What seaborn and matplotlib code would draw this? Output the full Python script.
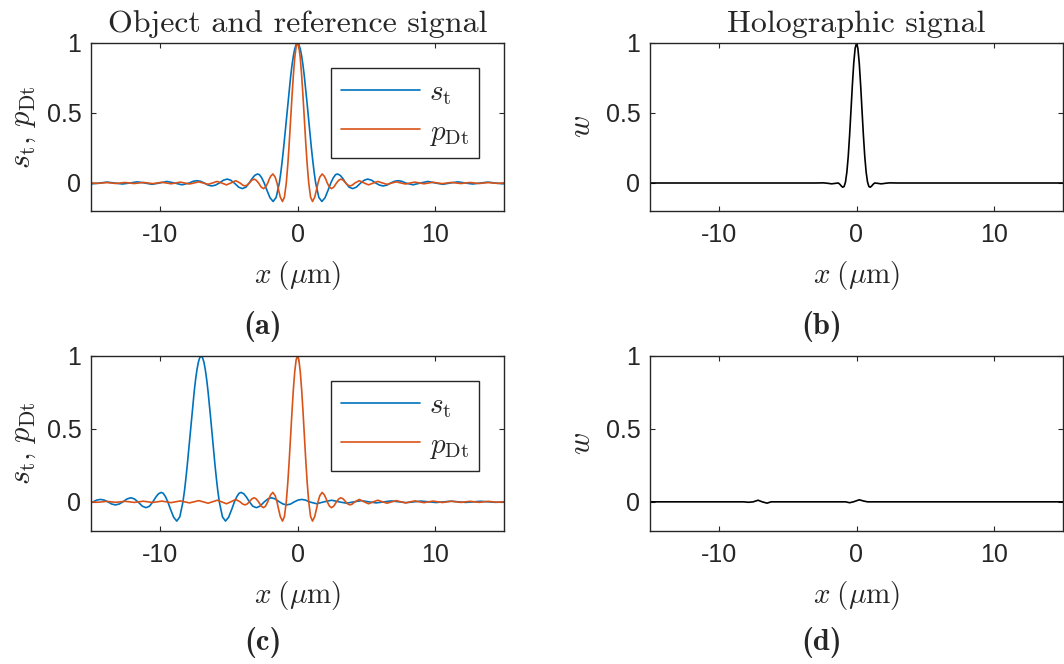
import numpy as np
import matplotlib
matplotlib.use("Agg")
import matplotlib.pyplot as plt
import seaborn as sns

# signal profiles (offset from peak in um, value); curves are symmetric
s_offset = [0, 0.1, 0.2, 0.3, 0.4, 0.5, 0.6, 0.7, 0.8, 0.9, 1.0, 1.1, 1.2, 1.32,
            1.55, 1.77, 2.0, 2.24, 2.42, 2.6, 2.76, 2.9, 3.1, 3.28, 3.51,
            3.75, 4.01, 4.27, 4.59, 4.85, 5.1, 5.38, 5.68, 5.95, 6.22, 6.5, 6.77,
            7.04, 7.31, 7.58, 7.85, 8.39, 8.93, 9.48, 10.02, 10.56, 11.1, 11.64, 12.18,
            12.72, 13.27, 13.81, 14.35, 14.89, 15.43, 15.97, 16.52, 17.06, 17.6,
            18.14, 18.68, 19.22, 19.76, 20.31, 20.85, 21.39, 21.93, 22.47]
s_value = [1.0, 0.989, 0.958, 0.908, 0.841, 0.759, 0.666, 0.566, 0.462, 0.359, 0.259, 0.167, 0.083, 0.0,
           -0.103, -0.132, -0.105, -0.047, 0.0, 0.037, 0.059, 0.0645, 0.055, 0.034, 0.0,
           -0.030, -0.040, -0.030, 0.0, 0.020, 0.028, 0.020, 0.0, -0.015, -0.021, -0.015, 0.0,
           0.012, 0.0165, 0.012, 0.0, -0.013, 0.0, 0.011, 0.0, -0.0094, 0.0, 0.0082, 0.0,
           -0.0072, 0.0, 0.0063, 0.0, -0.0056, 0.0, 0.005, 0.0, -0.0046, 0.0,
           0.0042, 0.0, -0.0039, 0.0, 0.0036, 0.0, -0.0034, 0.0, 0.0032]

p_offset = [0, 0.1, 0.2, 0.3, 0.4, 0.5, 0.6, 0.7, 0.815, 0.95, 1.09, 1.25, 1.38, 1.49,
            1.62, 1.79, 1.95, 2.08, 2.16, 2.32, 2.47, 2.63, 2.83, 3.0, 3.15, 3.32, 3.5,
            3.66, 3.82, 3.98, 4.17, 4.49, 4.84, 5.16, 5.51, 5.83, 6.18, 6.5, 6.85,
            7.18, 7.52, 7.85, 8.19, 8.52, 8.86, 9.19, 9.52, 9.86, 10.19, 10.53, 10.86,
            11.2, 11.53, 11.87, 12.19, 12.54, 12.86, 13.2, 13.53, 13.88, 14.19, 14.55, 14.87, 15.2]
p_value = [1.0, 0.973, 0.894, 0.771, 0.619, 0.452, 0.286, 0.137, 0.0, -0.101, -0.132, -0.101, -0.048, 0.0,
           0.042, 0.0645, 0.048, 0.0215, 0.0, -0.029, -0.040, -0.030, 0.0, 0.020, 0.028, 0.020, 0.0,
           -0.015, -0.021, -0.015, 0.0, 0.0165, 0.0, -0.0133, 0.0, 0.0111, 0.0, -0.0094, 0.0,
           0.0082, 0.0, -0.0072, 0.0, 0.0063, 0.0, -0.0056, 0.0, 0.005, 0.0, -0.0046, 0.0,
           0.0042, 0.0, -0.0039, 0.0, 0.0036, 0.0, -0.0034, 0.0, 0.0032, 0.0, -0.003, 0.0, 0.0028]

# holographic signal, panel (b) (symmetric) and panel (d)
w_b_offset = [0, 0.1, 0.2, 0.3, 0.4, 0.5, 0.6, 0.7, 0.8, 0.9, 1.0, 1.1, 1.2, 1.32,
              1.5, 1.8, 2.1, 2.4, 3.0, 15.2]
w_b_value = [1.0, 0.962, 0.856, 0.700, 0.520, 0.343, 0.190, 0.078, 0.007, -0.025, -0.030, -0.022, -0.010, 0.0,
             -0.002, -0.006, -0.002, 0.001, 0.0, 0.0]
w_d_x = [-15, -8.2, -7.85, -7.5, -7.15, -6.85, -6.5, -6.2, -1.1, -0.8, -0.5, -0.22, 0.2, 0.5, 0.8, 15]
w_d_y = [0, 0, -0.003, 0, 0.011, 0, -0.009, 0, 0, 0, -0.006, 0, 0.014, 0.006, 0, 0]

s_center = [0, -7]   # object position in (a) and (c)
x_ticks = [-10, 0, 10]
x_tick_labels = ['-10', '0', '10']
y_ticks = [0, 0.5, 1]
y_tick_labels = ['0', '0.5', '1']
panel_tags = ['(a)', '(b)', '(c)', '(d)']

BLUE = '#0072BD'
ORANGE = '#D95319'
DARK = '#262626'


def mirror(offsets, values, center=0.0):
    off = np.asarray(offsets, dtype=float)
    val = np.asarray(values, dtype=float)
    x = np.concatenate([-off[:0:-1], off]) + center
    y = np.concatenate([val[:0:-1], val])
    return x, y


sns.set_style("ticks", {"xtick.direction": "in", "ytick.direction": "in",
                        "axes.edgecolor": DARK})
plt.rcParams['font.family'] = ['Liberation Sans', 'DejaVu Sans']
plt.rcParams['mathtext.fontset'] = 'cm'
plt.rcParams['axes.unicode_minus'] = False

fig = plt.figure(figsize=(10.64, 6.64), dpi=100)
W, H = 1064, 664
# axes boxes in pixels: left, top, right, bottom
boxes = [(91, 43, 504, 211), (650, 43, 1063, 211),
         (91, 356, 504, 531), (650, 356, 1063, 531)]
axes = []
for l, t, r, b in boxes:
    axes.append(fig.add_axes([l / W, 1 - b / H, (r - l) / W, (b - t) / H]))
ax_a, ax_b, ax_c, ax_d = axes

lw = 1.2
for ax, c in [(ax_a, s_center[0]), (ax_c, s_center[1])]:
    sx, sy = mirror(s_offset, s_value, c)
    px, py = mirror(p_offset, p_value, 0)
    sns.lineplot(x=sx, y=sy, ax=ax, color=BLUE, linewidth=lw, sort=False,
                 estimator=None, label=r'$s_{\rm t}$')
    sns.lineplot(x=px, y=py, ax=ax, color=ORANGE, linewidth=lw, sort=False,
                 estimator=None, label=r'$p_{\rm Dt}$')

wx, wy = mirror(w_b_offset, w_b_value, 0)
sns.lineplot(x=wx, y=wy, ax=ax_b, color='black', linewidth=lw, sort=False, estimator=None)
sns.lineplot(x=w_d_x, y=w_d_y, ax=ax_d, color='black', linewidth=lw, sort=False, estimator=None)

for i, ax in enumerate(axes):
    ax.set_xlim(-15, 15)
    ax.set_ylim(-0.2, 1)
    ax.set_xticks(x_ticks, labels=x_tick_labels)
    ax.set_yticks(y_ticks, labels=y_tick_labels)
    ax.tick_params(axis='both', which='major', direction='in', length=3.5, width=0.8,
                   color=DARK, labelcolor=DARK, labelsize=18, top=True, right=True)
    ax.tick_params(axis='x', pad=9)
    ax.tick_params(axis='y', pad=7)
    for sp in ax.spines.values():
        sp.set_color(DARK)
        sp.set_linewidth(1.0)
        sp.set_visible(True)
    ax.set_xlabel(r'$x\;(\mu{\rm m})$', fontsize=21, color=DARK, labelpad=8)
    if i in (0, 2):
        ax.set_ylabel(r'$s_{\rm t},\, p_{\rm Dt}$', fontsize=22, color=DARK, labelpad=6)
        ax.legend(loc='upper left', bbox_to_anchor=(0.581, 0.85 if i == 0 else 0.856),
                  borderaxespad=0, fontsize=21, frameon=True, fancybox=False,
                  edgecolor=DARK, framealpha=1, handlelength=2.7, handletextpad=0.3,
                  labelspacing=0.35, borderpad=0.35).get_frame().set_linewidth(1.0)
    else:
        ax.set_ylabel(r'$w$', fontsize=22, color=DARK, labelpad=6)

ax_a.set_title('Object and reference signal', fontfamily='cmr10', fontsize=23, pad=8)
ax_b.set_title('Holographic signal', fontfamily='cmr10', fontsize=23, pad=8)

tag_pos = [(263, 326), (822, 326), (263, 643), (822, 643)]
for tag, (tx, ty) in zip(panel_tags, tag_pos):
    fig.text(tx / W, 1 - ty / H, tag, fontfamily='cmb10', fontsize=22,
             ha='center', va='center')

fig.savefig('out.png', dpi=100)
